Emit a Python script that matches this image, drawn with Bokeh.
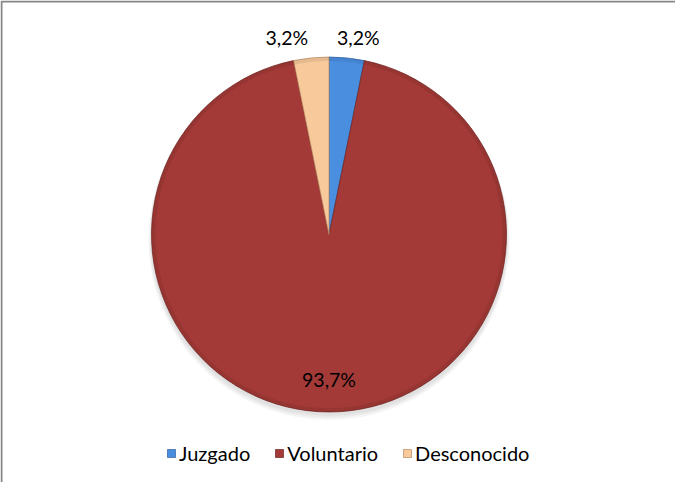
import math
from bokeh.plotting import figure
from bokeh.models import ColumnDataSource, Range1d, Legend, LegendItem
from bokeh.core.properties import value
from bokeh.embed import file_html
from bokeh.resources import INLINE

categories = ["Juzgado", "Voluntario", "Desconocido"]
percents = [3.2, 93.7, 3.2]
labels = ["3,2%", "93,7%", "3,2%"]
colors = ["#4A8EE0", "#A33A37", "#F8C99B"]
edge_colors = ["#2F5F9E", "#6E2220", "#B88A5E"]

W, H = 675, 482
CX, CY, R = 328.5, 248.0, 177.5
FONT = "Lato"

total = sum(percents)
starts, ends, mids = [], [], []
a = math.pi / 2
for v in percents:
    span = 2 * math.pi * v / total
    starts.append(a - span)
    ends.append(a)
    mids.append(a - span / 2)
    a -= span

p = figure(width=W, height=H, output_backend="svg", toolbar_location=None,
           x_range=Range1d(0, W), y_range=Range1d(0, H), min_border=0)
p.axis.visible = False
p.grid.visible = False
p.outline_line_color = None
p.background_fill_color = "white"
p.border_fill_color = "white"

# chart-area frame (only top and left edges fall inside the window)
p.line(x=[1, 1, W + 5], y=[-5, H - 1, H - 1], line_color="#868686", line_width=2)

# soft shadow
for k, al in enumerate([0.04, 0.04, 0.04]):
    p.circle(x=[CX], y=[CY - 3 - k], radius=R + 1 + k, fill_color="black",
             fill_alpha=al, line_color=None)

src = ColumnDataSource(dict(start=starts, end=ends, color=colors, edge=edge_colors,
                            cat=categories))
p.wedge(x=CX, y=CY, radius=R, start_angle="start", end_angle="end",
        fill_color="color", line_color="edge", line_width=0.7, source=src)
# bevel edge
p.annular_wedge(x=CX, y=CY, inner_radius=R - 4, outer_radius=R, start_angle="start",
                end_angle="end", fill_color="black", fill_alpha=0.07, line_color=None,
                source=src)

# data labels
lx, ly, align = [], [], []
for i, m in enumerate(mids):
    if percents[i] > 50:
        r = R * 0.815
        lx.append(CX + r * math.cos(m))
        ly.append(CY + r * math.sin(m))
        align.append("center")
    else:
        r = R + 21
        lx.append(CX + r * math.cos(m))
        ly.append(CY + r * math.sin(m))
        align.append("left" if math.cos(m) > 0 else "right")
x_off = [-12, 0, -1]
lsrc = ColumnDataSource(dict(x=lx, y=ly, t=labels, a=align, xo=x_off))
p.text(x="x", y="y", text="t", text_align="a", x_offset="xo", text_baseline="middle",
       text_font=value(FONT), text_font_size="19.5px", text_color="black", source=lsrc)

# legend
items = []
for c, col, ec in zip(categories, colors, edge_colors):
    r_ = p.quad(left=[-1000], right=[-999], bottom=[-1000], top=[-999],
                fill_color=col, line_color=ec, line_width=0.7)
    items.append(LegendItem(label=c, renderers=[r_]))
leg = Legend(items=items, orientation="horizontal", location=(166, 17),
             label_text_font=FONT, label_text_font_size="20px", label_text_color="black",
             glyph_width=10, glyph_height=10, label_standoff=3, spacing=24,
             border_line_color=None, background_fill_alpha=0, padding=0, margin=0)
p.add_layout(leg, "center")

open("out.html", "w").write(file_html(p, INLINE))
